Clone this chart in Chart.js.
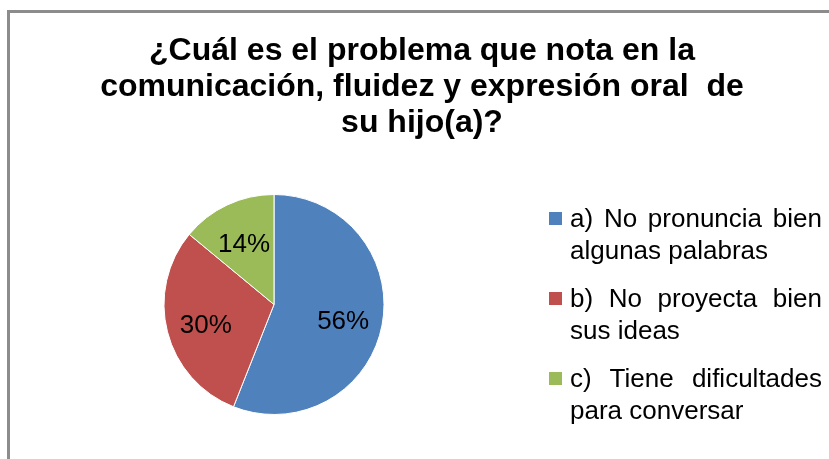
<!DOCTYPE html>
<html>
<head>
<meta charset="utf-8">
<script src="https://cdn.jsdelivr.net/npm/chart.js@4"></script>
<style>
  html, body { margin: 0; padding: 0; background: #fff; overflow: hidden; }
  body { width: 829px; height: 459px; position: relative; font-family: "Liberation Sans", Arial, sans-serif; }
  #marco { position: absolute; left: 7px; top: 10px; width: 900px; height: 500px;
           border-top: 3px solid #8c8c8c; border-left: 3px solid #8c8c8c; }
  #titulo { position: absolute; left: 0; top: 31px; width: 844px; text-align: center; white-space: pre;
            font-weight: bold; font-size: 32px; line-height: 36px; color: #000; }
  #grafico { position: absolute; left: 0; top: 0; }
  #leyenda { position: absolute; left: 549px; top: 202px; width: 274px; }
  .item { position: relative; padding-left: 21px; margin-bottom: 16px; }
  .cuadro { position: absolute; left: 0; top: 10px; width: 13px; height: 13px; }
  .texto { width: 252px; text-align: justify; font-size: 26px; line-height: 32px; color: #000; }
</style>
</head>
<body>
<div id="marco"></div>
<canvas id="grafico" width="829" height="459"></canvas>
<div id="titulo"></div>
<div id="leyenda"></div>
<script>
const titulo = ['¿Cuál es el problema que nota en la', 'comunicación, fluidez y expresión oral  de', 'su hijo(a)?'];
const categorias = ['a) No pronuncia bien algunas palabras', 'b) No proyecta bien sus ideas', 'c) Tiene dificultades para conversar'];
const porcentajes = [56, 30, 14];
const colores = ['#4F81BD', '#C0504D', '#9BBB59'];

document.querySelector('#titulo').textContent = titulo.join('\n');

// etiquetas de porcentaje dentro de cada sector
const etiquetas = {
  id: 'etiquetas',
  afterDatasetsDraw(chart) {
    const ctx = chart.ctx;
    const meta = chart.getDatasetMeta(0);
    ctx.save();
    ctx.font = '26px "Liberation Sans", Arial, sans-serif';
    ctx.fillStyle = '#000';
    ctx.textAlign = 'center';
    ctx.textBaseline = 'middle';
    meta.data.forEach((arc, i) => {
      const p = arc.getProps(['x', 'y', 'startAngle', 'endAngle', 'outerRadius'], true);
      const medio = (p.startAngle + p.endAngle) / 2;
      const d = p.outerRadius * 0.64;
      ctx.fillText(porcentajes[i] + '%', p.x + Math.cos(medio) * d, p.y + Math.sin(medio) * d + 4);
    });
    ctx.restore();
  }
};

const grafico = new Chart(document.querySelector('#grafico').getContext('2d'), {
  type: 'pie',
  data: {
    labels: categorias,
    datasets: [{
      data: porcentajes,
      backgroundColor: colores,
      borderColor: '#ffffff',
      borderWidth: 1
    }]
  },
  options: {
    responsive: false,
    animation: false,
    layout: { padding: { left: 163, top: 194, right: 829 - 385, bottom: 459 - 415 } },
    plugins: {
      legend: { display: false },
      tooltip: { enabled: false }
    }
  },
  plugins: [etiquetas]
});

// leyenda con texto justificado, generada desde los datos del gráfico
const leyenda = document.querySelector('#leyenda');
grafico.data.labels.forEach((etiqueta, i) => {
  const item = document.createElement('div');
  item.className = 'item';
  item.innerHTML = '<div class="cuadro" style="background:' + colores[i] + '"></div>' +
                   '<div class="texto">' + etiqueta + '</div>';
  leyenda.appendChild(item);
});
</script>
</body>
</html>
